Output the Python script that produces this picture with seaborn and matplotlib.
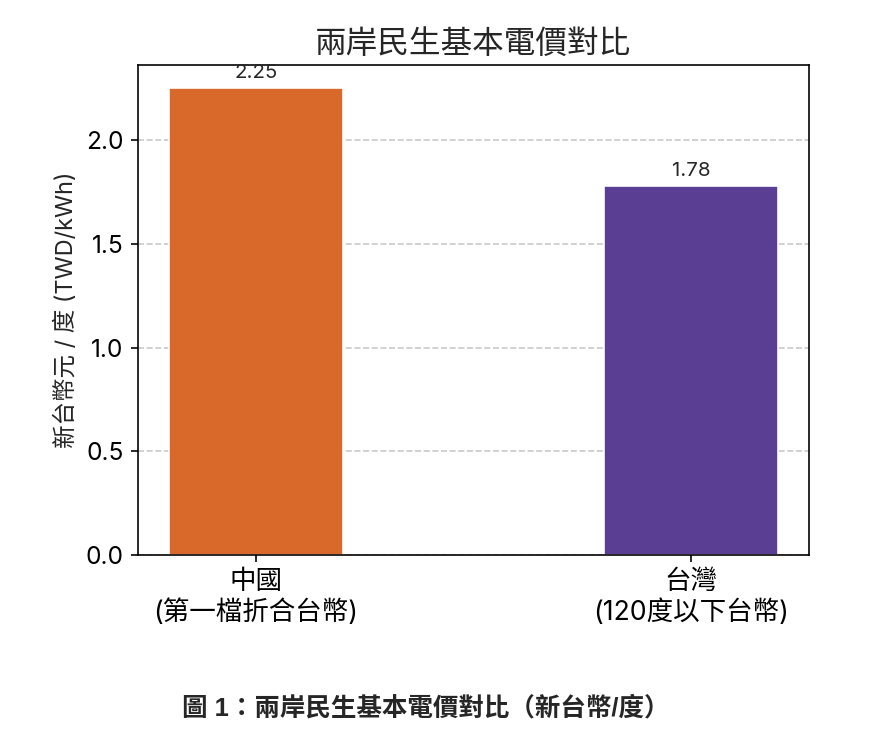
import matplotlib
matplotlib.use("Agg")
import matplotlib.pyplot as plt
import seaborn as sns
import pandas as pd

# Chart data
categories = ['中國\n(第一檔折合台幣)', '台灣\n(120度以下台幣)']
prices = [2.25, 1.78]
bar_colors = ['#D9692B', '#5A3E94']

df = pd.DataFrame({'region': categories, 'price': prices})

sns.set_theme(style="ticks", context="paper")
plt.rcParams['font.family'] = ['Inter', 'Noto Sans CJK TC', 'DejaVu Sans']
plt.rcParams['axes.unicode_minus'] = False

DPI = 147
fig = plt.figure(figsize=(882 / DPI, 734 / DPI), dpi=DPI)
ax = fig.add_axes([0.1565, 0.2439, 0.7605, 0.6675])

sns.barplot(data=df, x='region', y='price', hue='region', palette=bar_colors,
            width=0.4, legend=False, ax=ax, saturation=1)

# Value labels above bars
for container in ax.containers:
    ax.bar_label(container, fmt='%.2f', padding=3, fontsize=10)

ax.set_ylim(0, max(prices) * 1.05)
ax.set_xlim(-0.27, 1.27)
ax.yaxis.grid(True, linestyle='--', color='#BBBBBB', linewidth=0.8, alpha=0.8)
ax.set_axisbelow(True)

ax.set_title('兩岸民生基本電價對比', fontsize=15.5, pad=6)
ax.set_xlabel('')
ax.set_ylabel('新台幣元 / 度 (TWD/kWh)', fontsize=11.5, labelpad=4)
ax.tick_params(axis='y', labelsize=12, colors='black', length=3.5, width=0.8, pad=3.5)
ax.tick_params(axis='x', labelsize=13, colors='black', length=3.5, width=0.8, pad=3.5)
for s in ax.spines.values():
    s.set_color('black')
    s.set_linewidth(0.8)

fig.text(0.483, 0.035, '圖 1：兩岸民生基本電價對比（新台幣/度）', ha='center', va='center',
         fontsize=12.5, fontweight='bold', family=['Liberation Sans', 'Noto Sans CJK TC'])

fig.savefig('out.png', dpi=DPI)
